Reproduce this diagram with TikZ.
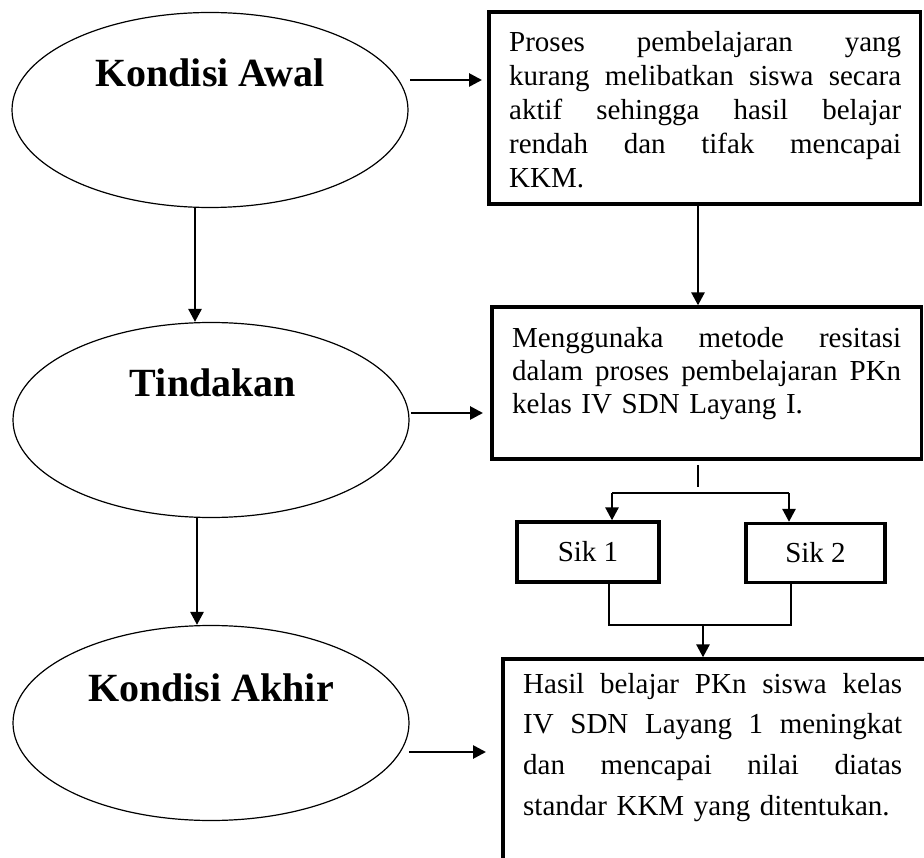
\documentclass[tikz,border=0pt]{standalone}
\usepackage{fontspec}
\setmainfont{Liberation Serif}
\usetikzlibrary{shapes.geometric,arrows.meta}
\newcommand{\jl}[2]{\leavevmode\hbox to #1{#2}}
\newcommand{\hs}{\hskip 0.25em plus 1fill\relax}
\begin{document}
\begin{tikzpicture}[x=1pt,y=-1pt,
  ell/.style={ellipse,draw,line width=1.2pt,minimum width=396pt,minimum height=195pt,inner sep=0pt},
  ttl/.style={font=\fontsize{40}{42}\selectfont\bfseries,inner sep=0pt,anchor=base},
  box/.style={draw,line width=3.3pt,rectangle,inner sep=0pt,font=\fontsize{29}{33}\selectfont},
  txt/.style={inner sep=0pt,anchor=base west,align=left},
  arr/.style={line width=2.7pt,-{Triangle[length=13pt,width=13pt]}},
  ln/.style={line width=2.7pt}]
\useasboundingbox (0,0) rectangle (924,858);
\clip (0,0) rectangle (924,858);
% ellipses
\node[ell] (e1) at (210,110) {};
\node[ell] (e2) at (211,420) {};
\node[ell] (e3) at (211,723) {};
\node[ttl] (t1) at (210,87) {Kondisi Awal};
\node[ttl] (t2) at (213,397) {Tindakan};
\node[ttl] (t3) at (211,701) {Kondisi Akhir};
% boxes
\node[box,minimum width=431.5pt,minimum height=192pt] (b1) at (704.75,108) {};
\node[box,minimum width=429.5pt,minimum height=152pt] (b2) at (706.75,383) {};
\node[box,minimum width=497pt,minimum height=291pt] (b3) at (751.5,804.5) {};
\node[box,minimum width=142pt,minimum height=60pt] (s1) at (588,552) {Sik 1};
\node[box,minimum width=139pt,minimum height=59pt] (s2) at (815.5,553) {Sik 2};
% texts
\node[txt,text width=392pt,font=\fontsize{29}{34}\selectfont] (p1) at (509,52)
 {\jl{392pt}{Proses\hs pembelajaran\hs yang}\\\jl{392pt}{kurang\hs melibatkan\hs siswa\hs secara}\\\jl{392pt}{aktif\hs sehingga\hs hasil\hs belajar}\\\jl{392pt}{rendah\hs dan\hs tifak\hs mencapai}\\KKM.};
\node[txt,text width=389pt,font=\fontsize{29}{33}\selectfont] (p2) at (512,348)
 {\jl{389pt}{Menggunaka\hs metode\hs resitasi}\\\jl{389pt}{dalam\hs proses\hs pembelajaran\hs PKn}\\kelas IV SDN Layang I.};
\node[txt,text width=379pt,font=\fontsize{29}{40.7}\selectfont] (p3) at (523,693)
 {\jl{379pt}{Hasil\hs belajar\hs PKn\hs siswa\hs kelas}\\\jl{379pt}{IV\hs SDN\hs Layang\hs 1\hs meningkat}\\\jl{379pt}{dan\hs mencapai\hs nilai\hs diatas}\\standar KKM yang ditentukan.};
% horizontal arrows
\coordinate (h1s) at (410,80);  \coordinate (h1e) at (482,80);
\coordinate (h2s) at (411,413); \coordinate (h2e) at (483,413);
\coordinate (h3s) at (409,752); \coordinate (h3e) at (486,752);
\draw[arr] (h1s) -- (h1e);
\draw[arr] (h2s) -- (h2e);
\draw[arr] (h3s) -- (h3e);
% vertical arrows left
\draw[arr] ([xshift=-15pt]e1.south) -- ([xshift=-16pt]e2.north);
\draw[arr] ([xshift=-14pt]e2.south) -- ([xshift=-14pt]e3.north);
% right column
\draw[arr] ([xshift=-6.75pt]b1.south) -- ([xshift=-8.75pt]b2.north);
\coordinate (sp0) at (698,465); \coordinate (sp1) at (698,487);
\draw[ln] (sp0) -- (sp1);
\coordinate (brL) at (612,493); \coordinate (brR) at (789,493);
\draw[ln] (brL) -- (brR);
\draw[arr] (brL) -- (s1.north -| brL);
\draw[arr] (brR) -- (s2.north -| brR);
\coordinate (mL) at (609,625); \coordinate (mR) at (791,625); \coordinate (mM) at (703,625);
\draw[ln] (s1.south -| mL) -- (mL) -- (mR) -- (s2.south -| mR);
\draw[arr] (mM) -- (b3.north -| mM);
\end{tikzpicture}
\end{document}
